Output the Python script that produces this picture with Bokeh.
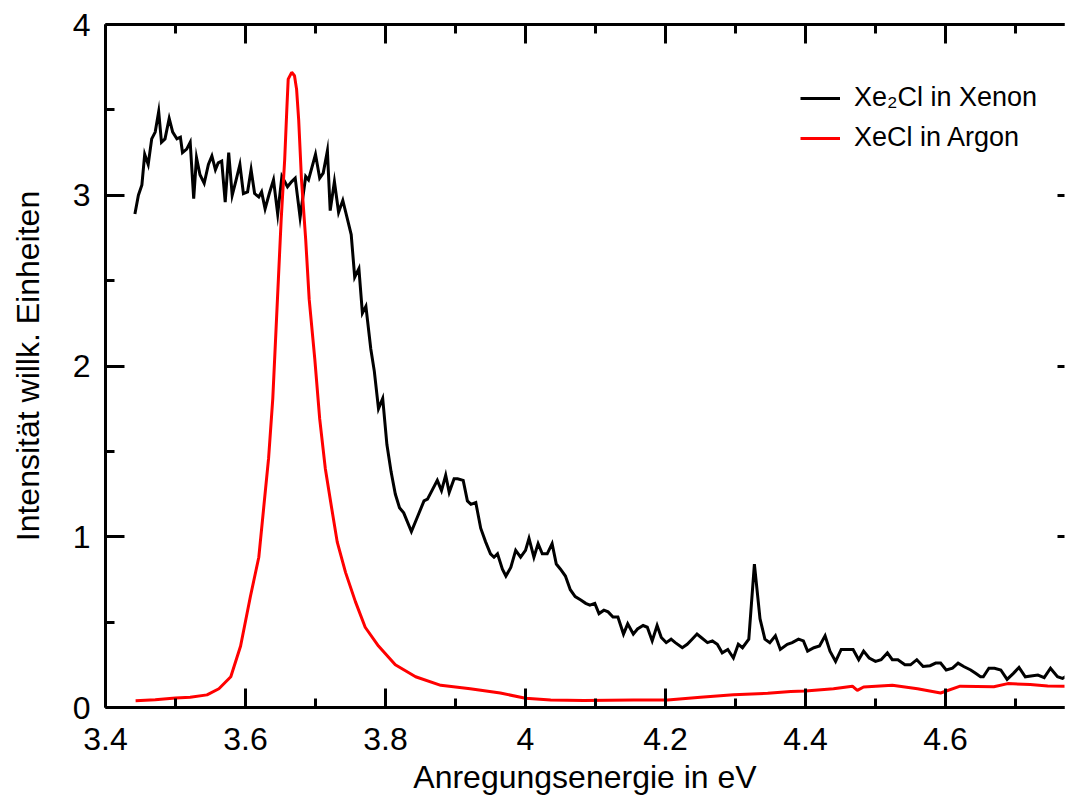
from bokeh.plotting import figure
from bokeh.models import (Range1d, FixedTicker, LinearAxis, Legend, LegendItem)
from bokeh.embed import file_html
from bokeh.resources import INLINE

# ---------------- data ----------------
xe2cl_x = [3.442, 3.447, 3.452, 3.456, 3.461, 3.466, 3.471, 3.476, 3.480, 3.485,
           3.491, 3.496, 3.502, 3.507, 3.510, 3.516, 3.521, 3.526, 3.530, 3.535,
           3.541, 3.547, 3.552, 3.557, 3.561, 3.566, 3.571, 3.576, 3.581, 3.586,
           3.592, 3.597, 3.603, 3.608, 3.613, 3.619, 3.623, 3.628, 3.634, 3.640,
           3.646, 3.652, 3.660, 3.666, 3.671, 3.678, 3.686, 3.690, 3.700, 3.706,
           3.711, 3.717, 3.721, 3.727, 3.733, 3.739, 3.745, 3.751, 3.756, 3.762,
           3.767, 3.772, 3.779, 3.784, 3.790, 3.796, 3.802, 3.808, 3.814, 3.820,
           3.826, 3.837, 3.845, 3.855, 3.860, 3.874, 3.880, 3.886, 3.891, 3.898,
           3.903, 3.911, 3.917, 3.922, 3.929, 3.936, 3.943, 3.950, 3.955, 3.960,
           3.967, 3.972, 3.979, 3.986, 3.993, 4.000, 4.005, 4.012, 4.018, 4.024,
           4.031, 4.038, 4.044, 4.050, 4.057, 4.064, 4.071, 4.079, 4.086, 4.092,
           4.099, 4.105, 4.112, 4.118, 4.125, 4.132, 4.140, 4.146, 4.154, 4.160,
           4.168, 4.174, 4.181, 4.188, 4.194, 4.201, 4.208, 4.214, 4.224, 4.231,
           4.238, 4.245, 4.251, 4.260, 4.267, 4.274, 4.281, 4.289, 4.297, 4.304,
           4.310, 4.319, 4.327, 4.335, 4.342, 4.349, 4.357, 4.364, 4.374, 4.381,
           4.390, 4.397, 4.403, 4.412, 4.420, 4.428, 4.435, 4.443, 4.451, 4.460,
           4.468, 4.476, 4.483, 4.491, 4.500, 4.508, 4.517, 4.524, 4.532, 4.542,
           4.550, 4.559, 4.568, 4.578, 4.586, 4.593, 4.601, 4.610, 4.618, 4.626,
           4.636, 4.643, 4.650, 4.654, 4.662, 4.670, 4.679, 4.688, 4.697, 4.705,
           4.714, 4.722, 4.732, 4.741, 4.750, 4.760, 4.767, 4.775, 4.782]
xe2cl_y = [2.89, 3.00, 3.06, 3.24, 3.18, 3.33, 3.37, 3.49, 3.31, 3.33,
           3.45, 3.37, 3.33, 3.34, 3.25, 3.27, 3.31, 2.98, 3.22, 3.12,
           3.07, 3.18, 3.23, 3.15, 3.19, 3.20, 2.96, 3.25, 3.00, 3.08,
           3.18, 3.01, 3.02, 3.15, 3.01, 2.99, 3.02, 2.92, 3.01, 3.09,
           2.89, 3.11, 3.05, 3.08, 3.10, 2.87, 3.11, 3.09, 3.24, 3.10,
           3.13, 3.26, 2.91, 3.08, 2.90, 2.97, 2.87, 2.77, 2.52, 2.57,
           2.31, 2.35, 2.10, 1.97, 1.75, 1.81, 1.54, 1.38, 1.25, 1.17,
           1.14, 1.03, 1.11, 1.21, 1.22, 1.33, 1.27, 1.36, 1.26, 1.34,
           1.34, 1.33, 1.21, 1.19, 1.20, 1.05, 0.97, 0.90, 0.88, 0.90,
           0.81, 0.77, 0.82, 0.92, 0.88, 0.92, 0.99, 0.88, 0.96, 0.90,
           0.90, 0.96, 0.84, 0.81, 0.77, 0.69, 0.65, 0.63, 0.61, 0.60,
           0.61, 0.55, 0.57, 0.56, 0.53, 0.53, 0.43, 0.49, 0.43, 0.46,
           0.48, 0.47, 0.39, 0.48, 0.41, 0.38, 0.40, 0.38, 0.35, 0.37,
           0.40, 0.43, 0.41, 0.38, 0.39, 0.37, 0.32, 0.34, 0.29, 0.37,
           0.35, 0.40, 0.84, 0.52, 0.40, 0.38, 0.42, 0.34, 0.37, 0.38,
           0.40, 0.39, 0.33, 0.35, 0.36, 0.42, 0.33, 0.27, 0.34, 0.34,
           0.34, 0.28, 0.33, 0.29, 0.27, 0.28, 0.32, 0.28, 0.28, 0.25,
           0.25, 0.28, 0.24, 0.245, 0.26, 0.26, 0.22, 0.23, 0.26, 0.24,
           0.22, 0.20, 0.18, 0.18, 0.23, 0.23, 0.22, 0.165, 0.20, 0.235,
           0.18, 0.185, 0.19, 0.175, 0.23, 0.18, 0.17, 0.19, 0.195]

xecl_x = [3.443, 3.471, 3.500, 3.521, 3.545, 3.562, 3.579, 3.593, 3.607, 3.619,
          3.626, 3.633, 3.639, 3.643, 3.647, 3.651, 3.656, 3.659, 3.661, 3.666,
          3.670, 3.673, 3.676, 3.680, 3.686, 3.691, 3.699, 3.706, 3.714, 3.723,
          3.731, 3.743, 3.757, 3.771, 3.790, 3.814, 3.843, 3.879, 3.921, 3.964,
          4.000, 4.036, 4.083, 4.154, 4.203, 4.250, 4.297, 4.346, 4.379, 4.400,
          4.440, 4.467, 4.474, 4.483, 4.524, 4.560, 4.593, 4.621, 4.669, 4.689,
          4.721, 4.746, 4.783]
xecl_y = [0.040, 0.045, 0.055, 0.060, 0.074, 0.11, 0.18, 0.36, 0.65, 0.88,
          1.17, 1.46, 1.81, 2.16, 2.51, 2.86, 3.21, 3.50, 3.68, 3.72,
          3.70, 3.62, 3.44, 3.09, 2.74, 2.39, 2.04, 1.69, 1.40, 1.17,
          0.97, 0.79, 0.62, 0.47, 0.36, 0.25, 0.18, 0.13, 0.11, 0.085,
          0.054, 0.044, 0.041, 0.044, 0.044, 0.060, 0.074, 0.083, 0.093, 0.097,
          0.11, 0.125, 0.10, 0.12, 0.13, 0.11, 0.085, 0.125, 0.122, 0.14,
          0.135, 0.126, 0.124]

series_labels = ["Xe\u2082Cl in Xenon", "XeCl in Argon"]
x_ticks = [3.4, 3.6, 3.8, 4.0, 4.2, 4.4, 4.6]
x_tick_labels = ["3.4", "3.6", "3.8", "4", "4.2", "4.4", "4.6"]
x_minor = [3.5, 3.7, 3.9, 4.1, 4.3, 4.5, 4.7]
y_ticks = [0, 1, 2, 3, 4]
y_tick_labels = ["0", "1", "2", "3", "4"]
y_minor = [0.5, 1.5, 2.5, 3.5]

FONT = "Liberation Sans"

p = figure(width=1065, height=797, output_backend="svg", toolbar_location=None,
           x_range=Range1d(3.4, 4.770), y_range=Range1d(0, 4),
           min_border_left=105, min_border_right=1, min_border_top=24,
           min_border_bottom=86, x_axis_location=None, y_axis_location=None)
p.grid.visible = False
p.outline_line_color = None
p.background_fill_color = "white"
p.border_fill_color = "white"

r1 = p.line(xe2cl_x, xe2cl_y, line_color="black", line_width=3, line_join="miter")
r2 = p.line(xecl_x, xecl_y, line_color="#ff0000", line_width=3)


def style(ax, ticks, minor, labels, show_labels, tick_in=19, minor_in=9, line=True):
    ax.ticker = FixedTicker(ticks=ticks, minor_ticks=minor)
    ax.major_tick_in = tick_in
    ax.major_tick_out = 0
    ax.minor_tick_in = minor_in
    ax.minor_tick_out = 0
    ax.major_tick_line_width = 3
    ax.minor_tick_line_width = 3
    ax.major_tick_line_color = "black"
    ax.minor_tick_line_color = "black"
    ax.axis_line_width = 3
    ax.axis_line_color = "black" if line else None
    ax.major_label_text_font = FONT
    ax.axis_label_text_font = FONT
    ax.axis_label_text_font_style = "normal"
    ax.axis_label_text_color = "black"
    ax.axis_label_text_font_size = "32px"
    if show_labels:
        ax.major_label_overrides = {t: l for t, l in zip(ticks, labels)}
        ax.major_label_text_font_size = "32px"
        ax.major_label_text_color = "black"
    else:
        ax.major_label_overrides = {t: "" for t in ticks}
        ax.major_label_text_font_size = "1px"
        ax.major_label_text_color = None
        ax.major_label_standoff = 0


xb = LinearAxis(axis_label="Anregungsenergie in eV")
style(xb, x_ticks, x_minor, x_tick_labels, True)
xb.major_label_standoff = 20
xb.axis_label_standoff = 6
p.add_layout(xb, "below")

yl = LinearAxis(axis_label="Intensität willk. Einheiten")
style(yl, y_ticks, y_minor, y_tick_labels, True)
yl.major_label_standoff = 15
yl.axis_label_standoff = 24
p.add_layout(yl, "left")

xt = LinearAxis()
style(xt, x_ticks, x_minor, x_tick_labels, False)
p.add_layout(xt, "above")

yr = LinearAxis()
style(yr, y_ticks, y_minor, y_tick_labels, False, tick_in=7, minor_in=0, line=False)
p.add_layout(yr, "right")

legend = Legend(items=[LegendItem(label=series_labels[0], renderers=[r1]),
                       LegendItem(label=series_labels[1], renderers=[r2])],
                location=(695, 554), glyph_width=40, glyph_height=20,
                label_standoff=14, spacing=9, padding=0, margin=0,
                border_line_color=None, background_fill_alpha=0,
                label_text_font=FONT, label_text_font_size="27px",
                label_height=20, label_text_color="black")
p.add_layout(legend)

open("out.html", "w").write(file_html(p, INLINE))
